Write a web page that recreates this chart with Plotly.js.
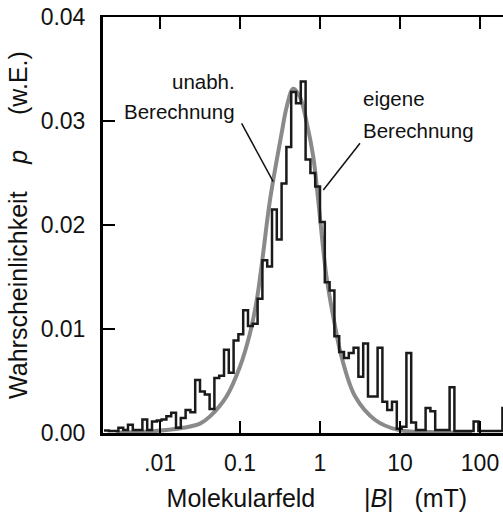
<!DOCTYPE html>
<html>
<head>
<meta charset="utf-8">
<script src="https://cdn.plot.ly/plotly-3.0.1.min.js"></script>
<style>
  html, body { margin: 0; padding: 0; background: #fff; }
  #chart { width: 503px; height: 512px; }
</style>
</head>
<body>
<div id="chart"></div>
<script>
// Histogram ("eigene Berechnung"): uniform bins in log10(|B| / mT)
const binStartLog = -2.7;      // log10 of left edge of first bin
const binWidthLog = 0.06;      // bin width in decades
const histValues = [
  0.00025, 0.0002, 0.0002, 0.0005, 0.0003, 0.0008, 0.0003, 0.0003, 0.0013, 0.0003,
  0.0011, 0.0012, 0.0013, 0.0016, 0.00195, 0.0005, 0.00145, 0.0022, 0.0020, 0.0051,
  0.0040, 0.0037, 0.0023, 0.0053, 0.0055, 0.0080, 0.0058, 0.0089, 0.0095, 0.0118,
  0.0103, 0.0105, 0.0129, 0.0166, 0.0160, 0.0215, 0.0186, 0.0240, 0.0275, 0.0328,
  0.0317, 0.0338, 0.0263, 0.0250, 0.0237, 0.0203, 0.0145, 0.0137, 0.0093, 0.0078,
  0.0072, 0.0077, 0.0082, 0.0054, 0.0086, 0.0035, 0.0035, 0.0082, 0.0030, 0.0022,
  0.0030, 0.0004, 0.0006, 0.0077, 0.0010, 0.0003, 0.0003, 0.0024, 0.0021, 0.0003,
  0.0003, 0.0003, 0.0044, 0.0002, 0.0002, 0.0002, 0.0002, 0.0011, 0.0002, 0.0002,
  0.0002, 0.0002, 0.0002, 0.0024
];

// Independent calculation ("unabh. Berechnung"): smooth curve
const curveLogB = [-2.55, -2.125, -1.71, -1.5, -1.375, -1.17, -1.0, -0.875, -0.79, -0.725,
  -0.625, -0.48, -0.415, -0.335, -0.25, -0.165, -0.085, -0.025, 0.025, 0.085,
  0.19, 0.27, 0.44, 0.69, 0.975, 1.375, 1.9];
const curveP = [0.00005, 0.00015, 0.0005, 0.0009, 0.0016, 0.0035, 0.0064, 0.0096, 0.0128, 0.0164,
  0.0224, 0.0288, 0.0314, 0.0331, 0.0323, 0.0298, 0.0266, 0.0226, 0.0188, 0.0148,
  0.0102, 0.0073, 0.0035, 0.00125, 0.0003, 0.0001, 0.00003];

const xTickVals = [0.01, 0.1, 1, 10, 100];
const xTickText = ['.01', '0.1', '1', '10', '100'];
const yTickVals = [0, 0.01, 0.02, 0.03, 0.04];
const yTickText = ['0.00', '0.01', '0.02', '0.03', '0.04'];

// step outline of the histogram
const histX = [], histY = [];
for (let k = 0; k < histValues.length; k++) {
  histX.push(Math.pow(10, binStartLog + k * binWidthLog));
  histY.push(histValues[k]);
}
histX.push(Math.pow(10, binStartLog + histValues.length * binWidthLog));
histY.push(histValues[histValues.length - 1]);

const curveX = curveLogB.map(v => Math.pow(10, v));

const font = 'Liberation Sans, Arial, Helvetica, sans-serif';
const sp = n => '\u00A0'.repeat(n);

const traces = [
  {
    x: curveX, y: curveP, type: 'scatter', mode: 'lines',
    line: { color: '#8a8a8a', width: 4, shape: 'spline', smoothing: 1 },
    hoverinfo: 'skip', showlegend: false
  },
  {
    x: histX, y: histY, type: 'scatter', mode: 'lines',
    line: { color: '#1a1a1a', width: 2.5, shape: 'hv' },
    hoverinfo: 'skip', showlegend: false
  }
];

const annFont = { size: 20.5, family: font, color: '#111' };

const layout = {
  width: 503, height: 512,
  margin: { l: 103, r: 0, t: 17, b: 79 },
  paper_bgcolor: '#fff', plot_bgcolor: '#fff',
  font: { family: font, color: '#111' },
  showlegend: false,
  xaxis: {
    type: 'log',
    range: [-2.7125, 2.2875],
    tickvals: xTickVals, ticktext: xTickText,
    ticks: 'inside', ticklen: 12, tickwidth: 1.5, tickcolor: '#000',
    showline: true, linecolor: '#000', linewidth: 2.5, mirror: 'ticks',
    showgrid: false, zeroline: false,
    tickfont: { size: 23, family: font, color: '#111' },
    ticklabelstandoff: 8,
    title: { text: '\u200B' + sp(4) + 'Molekularfeld' + sp(7) + '|<i>B</i>|' + sp(3) + '(mT)', font: { size: 25, family: font, color: '#111' } }
  },
  yaxis: {
    range: [0, 0.04],
    tickvals: yTickVals, ticktext: yTickText,
    ticks: 'inside', ticklen: 12, tickwidth: 1.5, tickcolor: '#000',
    showline: true, linecolor: '#000', linewidth: 3, mirror: false,
    showgrid: false, zeroline: false,
    tickfont: { size: 23, family: font, color: '#111' },
    ticklabelstandoff: 10,
    automargin: true,
    title: { text: 'Wahrscheinlichkeit' + sp(4) + '<i>p</i>' + sp(5) + '(w.E.)', font: { size: 25, family: font, color: '#111' }, standoff: 6 }
  },
  shapes: [
    { type: 'line', xref: 'paper', yref: 'paper', x0: 0.3465, y0: 0.7445, x1: 0.4255, y1: 0.6041, line: { color: '#111', width: 1.5 } },
    { type: 'line', xref: 'paper', yref: 'paper', x0: 0.6425, y0: 0.6964, x1: 0.5508, y1: 0.5841, line: { color: '#111', width: 1.5 } }
  ],
  annotations: [
    { xref: 'paper', yref: 'paper', x: 0.335, y: 0.846, xanchor: 'right', yanchor: 'middle', text: 'unabh.', showarrow: false, font: annFont },
    { xref: 'paper', yref: 'paper', x: 0.335, y: 0.774, xanchor: 'right', yanchor: 'middle', text: 'Berechnung', showarrow: false, font: annFont },
    { xref: 'paper', yref: 'paper', x: 0.645, y: 0.803, xanchor: 'left', yanchor: 'middle', text: 'eigene', showarrow: false, font: annFont },
    { xref: 'paper', yref: 'paper', x: 0.645, y: 0.726, xanchor: 'left', yanchor: 'middle', text: 'Berechnung', showarrow: false, font: annFont }
  ]
};

Plotly.newPlot('chart', traces, layout, { staticPlot: true, displayModeBar: false });
</script>
</body>
</html>
